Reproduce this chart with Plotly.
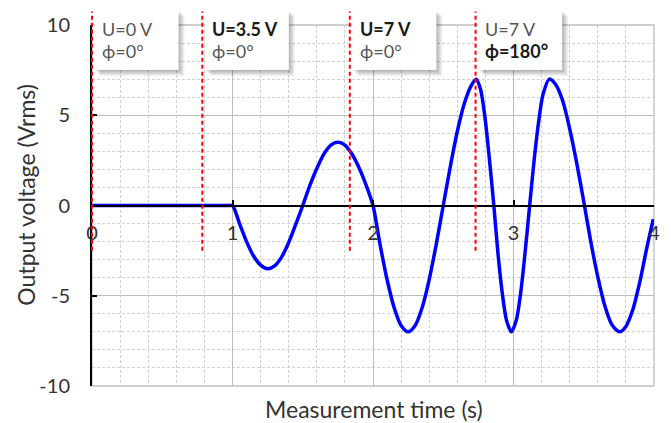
import plotly.graph_objects as go

# Measured output voltage over time (s, Vrms)
time_s = [0.0, 0.5, 0.98, 1.0, 1.05, 1.10, 1.15, 1.20, 1.25, 1.30, 1.35, 1.40, 1.45,
          1.50, 1.55, 1.60, 1.65, 1.70, 1.75, 1.80, 1.85, 1.90, 1.95,
          2.00, 2.05, 2.10, 2.15, 2.20, 2.25, 2.30, 2.35, 2.40, 2.45,
          2.50, 2.55, 2.60, 2.65, 2.70, 2.735, 2.765, 2.795, 2.825,
          2.86, 2.89, 2.92, 2.95, 2.985, 3.02, 3.05, 3.08,
          3.115, 3.15, 3.18, 3.21, 3.255, 3.30, 3.35, 3.40, 3.45,
          3.505, 3.55, 3.60, 3.65, 3.70, 3.755, 3.80, 3.85, 3.90, 3.95, 3.995]
voltage_vrms = [0.0, 0.0, 0.0, 0.0, -1.0, -2.0, -2.8, -3.3, -3.5, -3.35, -2.85, -2.05, -1.05,
                0.0, 1.1, 2.05, 2.85, 3.35, 3.5, 3.35, 2.85, 2.1, 1.15,
                0.0, -2.15, -4.1, -5.65, -6.65, -7.0, -6.65, -5.65, -4.1, -2.15,
                0.0, 2.15, 4.1, 5.65, 6.65, 7.0, 6.45, 5.0, 2.85,
                0.0, -2.7, -4.85, -6.35, -7.0, -6.35, -4.9, -2.8,
                0.0, 2.75, 4.7, 6.15, 7.0, 6.7, 5.8, 4.25, 2.35,
                0.0, -2.0, -3.95, -5.55, -6.6, -7.0, -6.7, -5.75, -4.2, -2.3, -0.75]

# Setpoint changes: time of the step and the new amplitude / phase
step_times = [0.0, 0.785, 1.835, 2.73]
step_amplitude = ["U=0 V", "U=3.5 V", "U=7 V", "U=7 V"]
step_phase = ["ϕ=0°", "ϕ=0°", "ϕ=0°", "ϕ=180°"]
amplitude_bold = [False, True, True, False]
phase_bold = [False, False, False, True]

x_ticks = [0, 1, 2, 3, 4]
y_ticks = [-10, -5, 0, 5, 10]

W, H = 671, 423
MARGIN = dict(l=92, r=11, t=25, b=37, pad=0)
X_RANGE = [0, 4]
Y_RANGE = [-10, 10]
PLOT_W = W - MARGIN["l"] - MARGIN["r"]
PLOT_H = H - MARGIN["t"] - MARGIN["b"]

FONT = "Lato, 'Open Sans', sans-serif"
TEXT = "#333333"
TEXT_LIGHT = "#555555"
TEXT_BOLD = "#1a1a1a"


def xpaper(t):
    return (t - X_RANGE[0]) / (X_RANGE[1] - X_RANGE[0])


def ypaper(v):
    return (v - Y_RANGE[0]) / (Y_RANGE[1] - Y_RANGE[0])


def dxp(px):
    return px / PLOT_W


def dyp(px):
    return px / PLOT_H


fig = go.Figure()

fig.add_trace(go.Scatter(
    x=time_s, y=voltage_vrms, mode="lines",
    line=dict(color="#0000ff", width=3.5, shape="spline", smoothing=0.8),
    hoverinfo="skip", showlegend=False,
))

shapes = []
annotations = []

# plot-area frame
shapes.append(dict(type="rect", xref="paper", yref="paper", x0=0, x1=1, y0=0, y1=1,
                   line=dict(color="#bfbfbf", width=1.3), layer="below"))

box_top = 1 + dyp(15)
box_bottom = 1 - dyp(45)
for t, amp, ph, ab, pb in zip(step_times, step_amplitude, step_phase, amplitude_bold, phase_bold):
    left = xpaper(t) + dxp(2.5)
    right = left + dxp(85)
    # soft drop shadow
    for k in range(1, 7):
        shapes.append(dict(type="rect", xref="paper", yref="paper",
                           x0=left + dxp(k), x1=right + dxp(k),
                           y0=box_bottom - dyp(k), y1=box_top - dyp(k),
                           fillcolor="rgba(0,0,0,0.05)", line=dict(width=0), layer="above"))
    shapes.append(dict(type="rect", xref="paper", yref="paper",
                       x0=left, x1=right, y0=box_bottom, y1=box_top,
                       fillcolor="white", line=dict(width=0), layer="above"))
    annotations.append(dict(
        xref="paper", yref="paper", x=left + dxp(5.5), y=1 - dyp(4),
        xanchor="left", yanchor="middle", showarrow=False,
        text=f"<b>{amp}</b>" if ab else amp,
        font=dict(family=FONT, size=18, color=TEXT_BOLD if ab else TEXT_LIGHT)))
    annotations.append(dict(
        xref="paper", yref="paper", x=left + dxp(5.5), y=1 - dyp(26.5),
        xanchor="left", yanchor="middle", showarrow=False,
        text=f"<b>{ph}</b>" if pb else ph,
        font=dict(family=FONT, size=18, color=TEXT_BOLD if pb else TEXT_LIGHT)))

# dashed step markers
for t in step_times:
    shapes.append(dict(type="line", xref="paper", yref="paper",
                       x0=xpaper(t), x1=xpaper(t),
                       y0=ypaper(-2.5), y1=ypaper(10.75),
                       line=dict(color="#ff0000", width=2, dash="4px,3px"), layer="above"))

# axis titles
annotations.append(dict(xref="paper", yref="paper", x=xpaper(2.01), y=0, yshift=-23,
                        xanchor="center", yanchor="middle", showarrow=False,
                        text="Measurement time (s)",
                        font=dict(family=FONT, size=23, color=TEXT)))
annotations.append(dict(xref="paper", yref="paper", x=0, xshift=-66, y=ypaper(0.6),
                        xanchor="center", yanchor="middle", showarrow=False, textangle=-90,
                        text="Output voltage (Vrms)",
                        font=dict(family=FONT, size=23, color=TEXT)))

fig.update_layout(
    width=W, height=H, margin=MARGIN,
    paper_bgcolor="white", plot_bgcolor="white",
    showlegend=False,
    shapes=shapes, annotations=annotations,
    xaxis=dict(
        range=X_RANGE, domain=[0, 1], anchor="free", position=ypaper(0),
        tickvals=x_ticks, ticktext=[str(v) for v in x_ticks],
        showline=True, linecolor="black", linewidth=1.6,
        ticks="inside", ticklen=5, tickwidth=1.5, tickcolor="black",
        ticklabelstandoff=10,
        tickfont=dict(family=FONT, size=20, color=TEXT),
        showgrid=True, gridcolor="#bdbdbd", gridwidth=1.3, zeroline=False,
        minor=dict(dtick=0.2, tick0=0, showgrid=True, gridcolor="#d0d0d0",
                   griddash="3px,2px", gridwidth=1),
        fixedrange=True,
    ),
    yaxis=dict(
        range=Y_RANGE, domain=[0, 1],
        tickvals=y_ticks, ticktext=[str(v) for v in y_ticks],
        showline=True, linecolor="black", linewidth=2,
        ticks="inside", ticklen=5, tickwidth=1.5, tickcolor="black",
        ticklabelstandoff=16,
        tickfont=dict(family=FONT, size=20, color=TEXT),
        showgrid=True, gridcolor="#bdbdbd", gridwidth=1.3, zeroline=False,
        minor=dict(dtick=1, tick0=0, showgrid=True, gridcolor="#d0d0d0",
                   griddash="3px,2px", gridwidth=1),
        fixedrange=True,
    ),
)

fig.write_html("out.html")
